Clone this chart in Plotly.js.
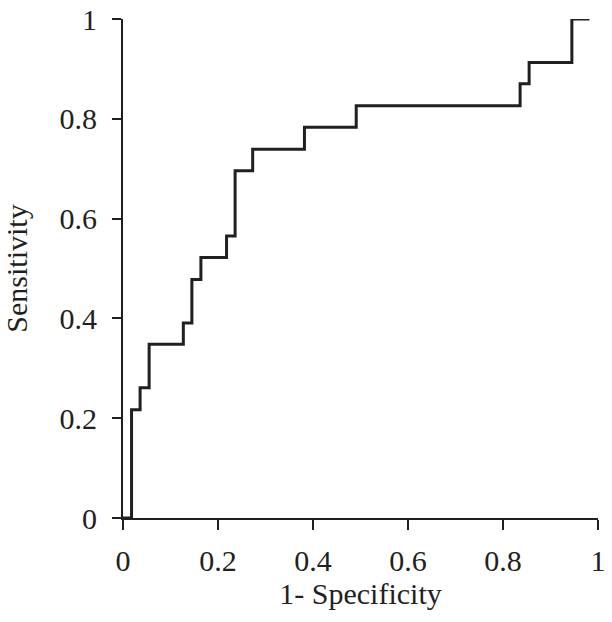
<!DOCTYPE html>
<html>
<head>
<meta charset="utf-8">
<script src="https://cdn.plot.ly/plotly-3.0.1.min.js"></script>
<style>
    html, body { margin: 0; padding: 0; background: #fff; }
    #chart { width: 612px; height: 622px; }
</style>
</head>
<body>
<div id="chart"></div>
<script>
// ROC curve corner points (1 - specificity, sensitivity)
const fpr = [0, 0.018, 0.036, 0.055, 0.127, 0.145, 0.164, 0.218, 0.236, 0.273, 0.382, 0.491, 0.836, 0.855, 0.945, 0.982];
const tpr = [0, 0.217, 0.261, 0.348, 0.391, 0.478, 0.522, 0.565, 0.696, 0.739, 0.783, 0.826, 0.870, 0.913, 1, 1];
const tickVals = [0, 0.2, 0.4, 0.6, 0.8, 1];
const tickText = ['0', '0.2', '0.4', '0.6', '0.8', '1'];

const trace = {
    x: fpr,
    y: tpr,
    type: 'scatter',
    mode: 'lines',
    line: { color: '#231f20', width: 3, shape: 'hv' },
    hoverinfo: 'x+y',
};

const axisBase = {
    range: [0, 1],
    showgrid: false,
    zeroline: false,
    showline: true,
    linecolor: '#231f20',
    linewidth: 2,
    ticks: 'outside',
    tickcolor: '#231f20',
    tickwidth: 2,
    tickvals: tickVals,
    ticktext: tickText,
    fixedrange: true,
};

const layout = {
    width: 612,
    height: 622,
    margin: { l: 123, r: 14, t: 19, b: 104 },
    paper_bgcolor: '#fff',
    plot_bgcolor: '#fff',
    font: { family: 'Liberation Serif, Times New Roman, serif', color: '#231f20', size: 30 },
    showlegend: false,
    xaxis: Object.assign({}, axisBase, {
        ticklen: 10,
        ticklabelstandoff: 5,
        title: { text: '1- Specificity', standoff: 2, font: { size: 30 } },
    }),
    yaxis: Object.assign({}, axisBase, {
        ticklen: 9,
        ticklabelstandoff: 9,
        title: { text: 'Sensitivity', standoff: 24, font: { size: 30 } },
    }),
};

Plotly.newPlot('chart', [trace], layout, { displayModeBar: false, staticPlot: true });
</script>
</body>
</html>
